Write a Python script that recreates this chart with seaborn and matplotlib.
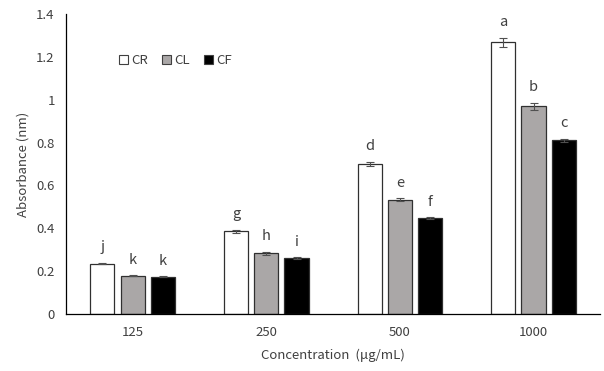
import seaborn as sns
import matplotlib.pyplot as plt
import numpy as np
import pandas as pd

concentrations = ['125', '250', '500', '1000']
samples = ['CR', 'CL', 'CF']
cr_mean = [0.235, 0.385, 0.700, 1.268]
cl_mean = [0.178, 0.282, 0.533, 0.970]
cf_mean = [0.173, 0.260, 0.446, 0.810]
cr_err = [0.004, 0.008, 0.010, 0.022]
cl_err = [0.003, 0.008, 0.007, 0.017]
cf_err = [0.003, 0.004, 0.005, 0.008]
cr_letters = ['j', 'g', 'd', 'a']
cl_letters = ['k', 'h', 'e', 'b']
cf_letters = ['k', 'i', 'f', 'c']

sns.set_style('white')
plt.rcParams['font.family'] = ['Noto Sans CJK KR', 'DejaVu Sans']
plt.rcParams['text.color'] = '#404040'
plt.rcParams['axes.labelcolor'] = '#404040'
plt.rcParams['xtick.color'] = '#404040'
plt.rcParams['ytick.color'] = '#404040'

df = pd.DataFrame({
    'conc': concentrations * 3,
    'sample': ['CR'] * 4 + ['CL'] * 4 + ['CF'] * 4,
    'value': cr_mean + cl_mean + cf_mean,
})
errs = [cr_err, cl_err, cf_err]
letters = [cr_letters, cl_letters, cf_letters]
colors = ['#ffffff', '#aaa7a7', '#000000']

fig = plt.figure(figsize=(6.04, 3.71), dpi=100)
ax = fig.add_axes([0.109, 0.154, 0.885, 0.808])
sns.barplot(data=df, x='conc', y='value', hue='sample', hue_order=samples,
            palette=colors, width=0.68, gap=0.2, edgecolor='#303030',
            linewidth=0.9, errorbar=None, ax=ax)

bar_groups = list(ax.containers)
for i, cont in enumerate(bar_groups):
    xs = [p.get_x() + p.get_width() / 2 for p in cont.patches]
    ys = [p.get_height() for p in cont.patches]
    ax.errorbar(xs, ys, yerr=errs[i], fmt='none', ecolor='#505050',
                elinewidth=0.8, capsize=2.6, capthick=0.8)
    for x, y, e, t in zip(xs, ys, errs[i], letters[i]):
        ax.text(x, y + e + 0.04, t, ha='center', va='bottom', fontsize=10.5)

ax.set_ylim(0, 1.4)
ax.set_yticks(np.arange(0, 1.41, 0.2))
ax.set_yticklabels(['0', '0.2', '0.4', '0.6', '0.8', '1', '1.2', '1.4'])
ax.set_xlim(-0.5, 3.5)
ax.tick_params(axis='y', direction='in', length=4, width=0.8, color='black',
               labelsize=9.5, pad=8)
ax.tick_params(axis='x', length=0, labelsize=9.5, pad=9)
ax.set_xlabel('Concentration  (μg/mL)', fontsize=9.5, labelpad=7)
ax.set_ylabel('Absorbance (nm)', fontsize=9.5, labelpad=5)
for s in ['top', 'right']:
    ax.spines[s].set_visible(False)
for s in ['left', 'bottom']:
    ax.spines[s].set_color('black')
    ax.spines[s].set_linewidth(0.9)

leg = ax.legend(ncol=3, loc='center', bbox_to_anchor=(0.205, 0.845), frameon=False,
                handlelength=0.65, handleheight=0.65, handletextpad=0.25,
                columnspacing=1.1, fontsize=9.5)
for h in leg.legend_handles:
    h.set_edgecolor('#404040')
    h.set_linewidth(0.8)

fig.savefig('out.png', dpi=100)
